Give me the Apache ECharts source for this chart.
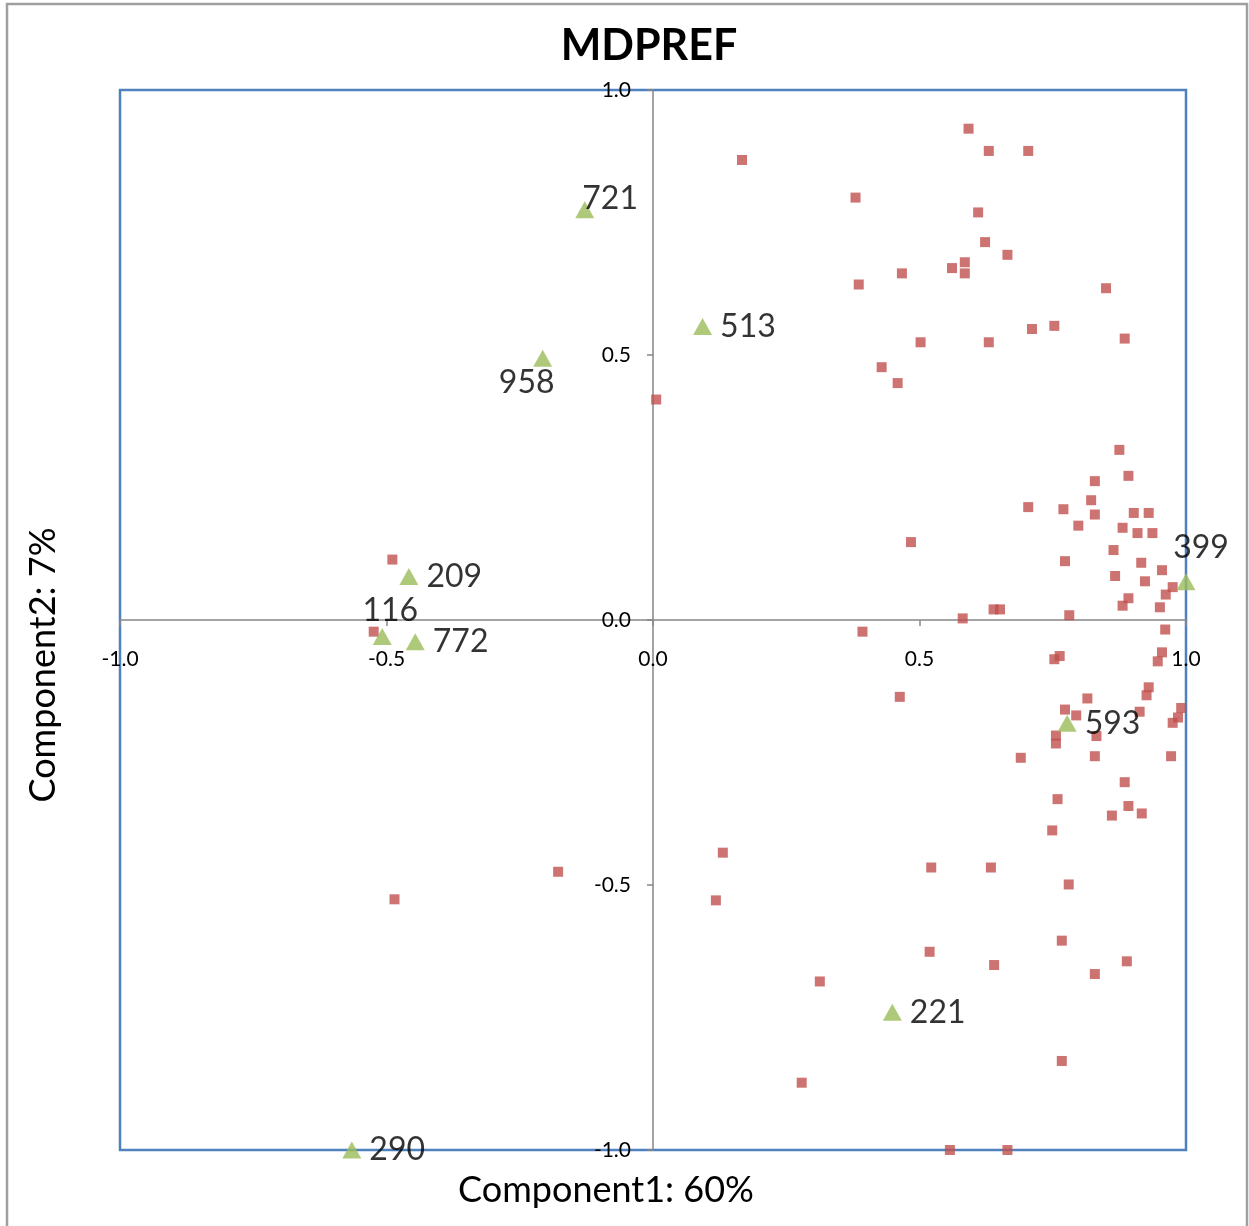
<!DOCTYPE html>
<html>
<head>
<meta charset="utf-8">
<script src="https://cdn.jsdelivr.net/npm/echarts@6/dist/echarts.min.js"></script>
<style>
  html, body { margin: 0; padding: 0; background: #fff; }
  #main { width: 1249px; height: 1226px; }
</style>
</head>
<body>
<div id="main"></div>
<script>
  // respondent points (red squares)
  const respX = [
    0.167, 0.592, 0.630, 0.704, 0.380, 0.610, 0.623, 0.665, 0.585, 0.561, 0.585, 0.467, 0.386, 0.850, 0.753,
    0.711, 0.885, 0.502, 0.630, 0.429, 0.459, 0.006,
    0.875, 0.892, 0.829, 0.704, 0.770, 0.822, 0.829, 0.902, 0.930, 0.798, 0.881, 0.909, 0.937, 0.484,
    0.864, 0.773, 0.916, 0.955, 0.867, 0.923, 0.975, 0.962, 0.892, 0.881, 0.951, 0.639, 0.651, 0.781,
    0.581, 0.393, 0.961,
    0.753, 0.763, 0.955, 0.947, 0.930, 0.926, 0.463, 0.815, 0.773, 0.794, 0.913, 0.991, 0.985, 0.975,
    0.832, 0.756, 0.756, 0.690, 0.829, 0.972, 0.885, 0.759, 0.892, 0.861, 0.917, 0.749, 0.131, 0.522,
    0.634, 0.780, 0.118, 0.767, 0.519, 0.640, 0.889, 0.829, 0.313, 0.767, 0.279, 0.557, 0.665,
    -0.489, -0.524, -0.178, -0.485
  ];
  const respY = [
    0.868, 0.927, 0.885, 0.885, 0.797, 0.769, 0.713, 0.689, 0.675, 0.664, 0.654, 0.654, 0.633, 0.626, 0.555,
    0.549, 0.531, 0.524, 0.524, 0.477, 0.447, 0.416,
    0.321, 0.272, 0.262, 0.213, 0.209, 0.226, 0.199, 0.202, 0.202, 0.178, 0.174, 0.164, 0.164, 0.147,
    0.132, 0.111, 0.108, 0.094, 0.083, 0.073, 0.062, 0.048, 0.041, 0.027, 0.024, 0.020, 0.020, 0.009,
    0.003, -0.022, -0.018,
    -0.074, -0.068, -0.061, -0.078, -0.127, -0.142, -0.145, -0.148, -0.169, -0.180, -0.173, -0.166, -0.184, -0.194,
    -0.219, -0.218, -0.233, -0.260, -0.257, -0.257, -0.306, -0.338, -0.351, -0.369, -0.365, -0.397, -0.439, -0.467,
    -0.467, -0.499, -0.529, -0.605, -0.626, -0.651, -0.644, -0.668, -0.682, -0.832, -0.873, -1.000, -1.000,
    0.114, -0.022, -0.475, -0.527
  ];

  // product points (green triangles)
  const prodNames = ['721', '513', '958', '209', '116', '772', '399', '593', '221', '290'];
  const prodX = [-0.128, 0.093, -0.207, -0.458, -0.508, -0.446, 1.000, 0.777, 0.449, -0.565];
  const prodY = [0.774, 0.554, 0.494, 0.082, -0.031, -0.041, 0.072, -0.195, -0.740, -1.000];

  const axisTicks = [-1.0, -0.5, 0.0, 0.5, 1.0];

  // label placement per product, like the Excel sheet
  const labelLayout = {
    '721': { position: 'right', offset: [-17, -11] },
    '958': { position: 'bottom', offset: [-16, -5] },
    '116': { position: 'top', offset: [8, 4] },
    '399': { position: 'top', offset: [15, -5] }
  };

  const fontFamily = 'Lato, "Open Sans", sans-serif';
  const chart = echarts.init(document.getElementById('main'));

  const gridBox = { left: 120, top: 90, right: 63, bottom: 76 };
  const gridW = 1249 - gridBox.left - gridBox.right;
  const gridH = 1226 - gridBox.top - gridBox.bottom;

  const respData = respX.map((x, i) => [x, respY[i]]);
  const prodData = prodNames.map((n, i) => {
    const lay = labelLayout[n] || { position: 'right', offset: [3, 0] };
    return {
      name: n,
      value: [prodX[i], prodY[i]],
      label: { position: lay.position, offset: lay.offset }
    };
  });

  const axisCommon = {
    type: 'value',
    min: axisTicks[0],
    max: axisTicks[axisTicks.length - 1],
    interval: 0.5,
    splitLine: { show: false },
    axisLine: { onZero: false, lineStyle: { color: '#868686', width: 1.5 } },
    axisTick: { show: true, length: 6, lineStyle: { color: '#868686', width: 1.5 } },
    axisLabel: {
      color: '#000',
      fontFamily: fontFamily,
      fontSize: 21,
      formatter: v => v.toFixed(1)
    }
  };

  chart.setOption({
    animation: false,
    backgroundColor: '#fff',
    title: {
      text: 'MDPREF',
      left: 644,
      textAlign: 'center',
      top: 20,
      textStyle: { fontFamily: fontFamily, fontSize: 43, fontWeight: 'bold', color: '#000' }
    },
    grid: Object.assign({
      show: true,
      backgroundColor: '#fff',
      borderColor: '#4F81BD',
      borderWidth: 2.5
    }, gridBox),
    // axes sit through the origin, like the Excel chart
    xAxis: Object.assign({}, axisCommon, {
      position: 'bottom',
      offset: -gridH / 2,
      axisLabel: Object.assign({}, axisCommon.axisLabel, { margin: 29 })
    }),
    yAxis: Object.assign({}, axisCommon, {
      position: 'left',
      offset: -gridW / 2,
      axisLabel: Object.assign({}, axisCommon.axisLabel, { margin: 22 })
    }),
    graphic: [
      {
        type: 'rect',
        shape: { x: 7, y: 4, width: 1240, height: 1240 },
        style: { fill: null, stroke: '#A0A0A0', lineWidth: 2.5 },
        silent: true,
        z: -10
      },
      {
        type: 'text',
        x: 606, y: 1190,
        style: {
          text: 'Component1: 60%',
          font: '36px ' + fontFamily,
          fill: '#000',
          textAlign: 'center',
          textVerticalAlign: 'middle'
        }
      },
      {
        type: 'text',
        x: 43, y: 665,
        rotation: Math.PI / 2,
        style: {
          text: 'Component2: 7%',
          font: '36px ' + fontFamily,
          fill: '#000',
          textAlign: 'center',
          textVerticalAlign: 'middle'
        }
      }
    ],
    series: [
      {
        name: 'Respondents',
        type: 'scatter',
        symbol: 'rect',
        symbolSize: 10,
        itemStyle: { color: '#C0504D' },
        data: respData,
        z: 3
      },
      {
        name: 'Products',
        type: 'scatter',
        symbol: 'triangle',
        symbolSize: [19, 17],
        itemStyle: { color: '#9BBB59' },
        label: {
          show: true,
          formatter: p => p.name,
          color: '#000',
          fontFamily: fontFamily,
          fontSize: 32,
          distance: 5
        },
        data: prodData,
        z: 4
      }
    ]
  });
</script>
</body>
</html>
